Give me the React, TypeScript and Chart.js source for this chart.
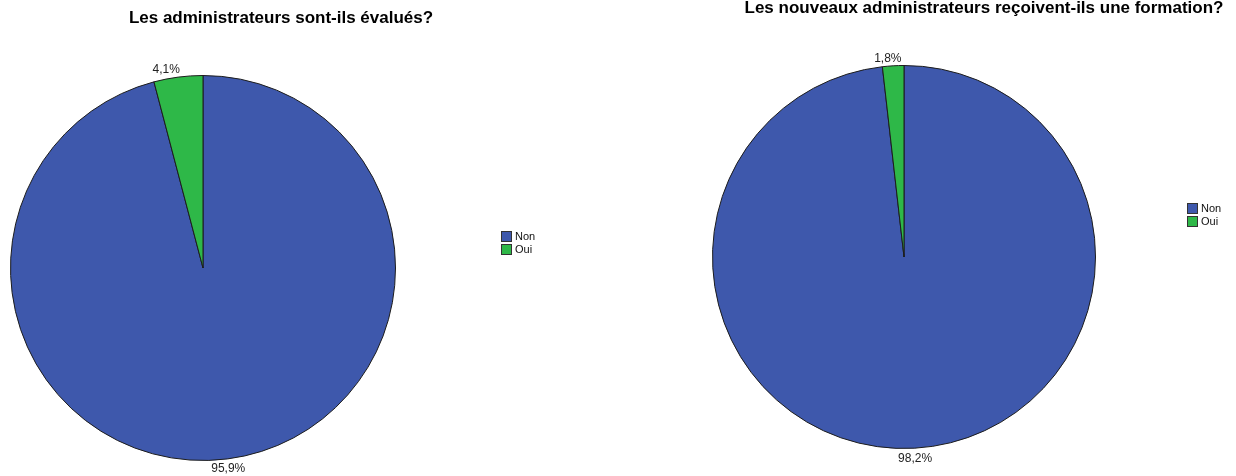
import React, { useEffect, useRef } from "react";
import { Chart, registerables } from "chart.js";

Chart.register(...registerables);

const categories = ["Non", "Oui"];
const evaluesValues = [95.9, 4.1];
const formationValues = [98.2, 1.8];
const sliceColors = ["#3e58ac", "#2eb848"];
const leftTitle = "Les administrateurs sont-ils évalués?";
const rightTitle = "Les nouveaux administrateurs reçoivent-ils une formation?";

const FONT = '"Liberation Sans", Arial, sans-serif';

function fmt(v: number) {
  return v.toFixed(1).replace(".", ",") + "%";
}

const decorPlugin = {
  id: "spssDecor",
  afterDraw(chart: any, _args: any, opts: any) {
    const ctx = chart.ctx;
    ctx.save();
    // title
    ctx.fillStyle = "#000";
    ctx.font = `bold 17px ${FONT}`;
    ctx.textAlign = "center";
    ctx.textBaseline = "alphabetic";
    ctx.fillText(opts.title, opts.titleX, opts.titleY);

    // slice labels
    const meta = chart.getDatasetMeta(0);
    const data = chart.data.datasets[0].data as number[];
    ctx.font = `12px ${FONT}`;
    ctx.fillStyle = "#222";
    meta.data.forEach((arc: any, i: number) => {
      const { x, y, startAngle, endAngle, outerRadius } = arc.getProps(
        ["x", "y", "startAngle", "endAngle", "outerRadius"],
        true
      );
      const mid = (startAngle + endAngle) / 2;
      const r = outerRadius + 4;
      const above = Math.sin(mid) < 0;
      const px = x + Math.cos(mid) * r + (above ? Math.cos(mid) * 90 : 0);
      const py = y + Math.sin(mid) * r;
      ctx.textAlign = "center";
      ctx.textBaseline = above ? "alphabetic" : "top";
      ctx.fillText(fmt(data[i]), px, py);
    });

    // legend
    const labels = chart.data.labels as string[];
    const colors = chart.data.datasets[0].backgroundColor as string[];
    ctx.font = `11px ${FONT}`;
    labels.forEach((lab, i) => {
      const bx = opts.legendX;
      const by = opts.legendY + i * 13;
      ctx.fillStyle = colors[i];
      ctx.fillRect(bx, by, 10, 10);
      ctx.strokeStyle = "#333";
      ctx.lineWidth = 1;
      ctx.strokeRect(bx + 0.5, by + 0.5, 10, 10);
      ctx.fillStyle = "#111";
      ctx.textAlign = "left";
      ctx.textBaseline = "middle";
      ctx.fillText(lab, bx + 14, by + 6);
    });
    ctx.restore();
  },
};

function makeConfig(values: number[], padding: any, decor: any): any {
  return {
    type: "pie",
    data: {
      labels: categories,
      datasets: [
        {
          data: values,
          backgroundColor: sliceColors,
          borderColor: "#1c1c1c",
          borderWidth: 1,
        },
      ],
    },
    options: {
      responsive: false,
      animation: false,
      devicePixelRatio: 1,
      layout: { padding },
      plugins: {
        legend: { display: false },
        title: { display: false },
        tooltip: { enabled: false },
        spssDecor: decor,
      },
    },
    plugins: [decorPlugin],
  };
}

export default function App() {
  const leftRef = useRef<HTMLCanvasElement>(null);
  const rightRef = useRef<HTMLCanvasElement>(null);

  useEffect(() => {
    const c1 = new Chart(
      leftRef.current as HTMLCanvasElement,
      makeConfig(
        evaluesValues,
        { left: 10, right: 222, top: 75, bottom: 15 },
        { title: leftTitle, titleX: 281, titleY: 22.5, legendX: 501, legendY: 231 }
      )
    );
    const c2 = new Chart(
      rightRef.current as HTMLCanvasElement,
      makeConfig(
        formationValues,
        { left: 94, right: 140, top: 65, bottom: 27 },
        { title: rightTitle, titleX: 366, titleY: 13, legendX: 569, legendY: 203 }
      )
    );
    return () => {
      c1.destroy();
      c2.destroy();
    };
  }, []);

  return (
    <div
      style={{
        position: "fixed",
        left: 0,
        top: 0,
        width: 1236,
        height: 476,
        background: "#fff",
      }}
    >
      <canvas
        ref={leftRef}
        width={618}
        height={476}
        style={{ position: "absolute", left: 0, top: 0, width: 618, height: 476 }}
      />
      <canvas
        ref={rightRef}
        width={618}
        height={476}
        style={{ position: "absolute", left: 618, top: 0, width: 618, height: 476 }}
      />
    </div>
  );
}
